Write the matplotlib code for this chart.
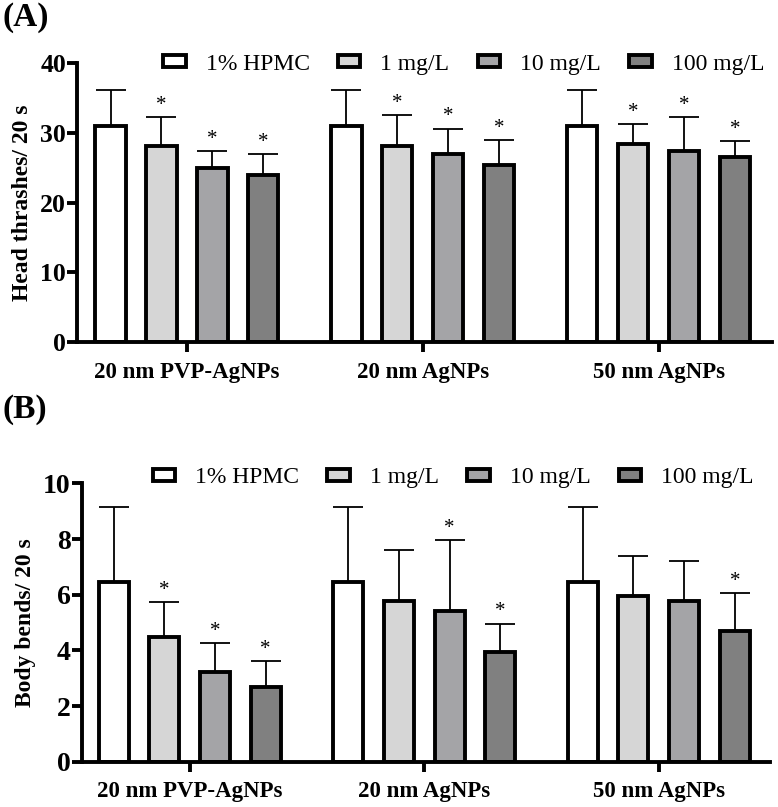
import numpy as np
from matplotlib import pyplot as plt

groups = ['20 nm PVP-AgNPs', '20 nm AgNPs', '50 nm AgNPs']
series = ['1% HPMC', '1 mg/L', '10 mg/L', '100 mg/L']
colors = ['#ffffff', '#d6d6d6', '#a4a4a7', '#808080']

# head thrashes (mean, sd) per series, across groups
head_hpmc = [31.0, 31.0, 31.0]
head_1 = [28.1, 28.1, 28.4]
head_10 = [25.0, 26.9, 27.4]
head_100 = [24.0, 25.4, 26.5]
head_sd_hpmc = [5.1, 5.1, 5.1]
head_sd_1 = [4.2, 4.5, 2.8]
head_sd_10 = [2.4, 3.7, 4.9]
head_sd_100 = [2.9, 3.5, 2.3]
head_star_hpmc = [0, 0, 0]
head_star_1 = [1, 1, 1]
head_star_10 = [1, 1, 1]
head_star_100 = [1, 1, 1]

# body bends
bend_hpmc = [6.45, 6.45, 6.45]
bend_1 = [4.47, 5.78, 5.95]
bend_10 = [3.22, 5.41, 5.77]
bend_100 = [2.68, 3.94, 4.71]
bend_sd_hpmc = [2.72, 2.72, 2.72]
bend_sd_1 = [1.27, 1.81, 1.44]
bend_sd_10 = [1.03, 2.56, 1.45]
bend_sd_100 = [0.93, 1.02, 1.34]
bend_star_hpmc = [0, 0, 0]
bend_star_1 = [1, 0, 0]
bend_star_10 = [1, 1, 0]
bend_star_100 = [1, 1, 1]

plt.rcParams['font.family'] = ['Liberation Serif', 'DejaVu Serif']


def panel(ax, means, sds, stars, ylim, yticks, ylabel, xlim, tick_fs, star_off, leg_anchor):
    x = np.arange(len(groups))
    step = 0.216
    width = 0.128
    for i, (m, s, st) in enumerate(zip(means, sds, stars)):
        pos = x + (i - 1.5) * step
        ax.errorbar(pos, m, yerr=[np.zeros(len(s)), s], fmt='none', ecolor='black',
                    elinewidth=1.3, capsize=11, capthick=1.3, zorder=1)
        ax.bar(pos, m, width, color=colors[i], edgecolor='black', linewidth=2.8,
               label=series[i], zorder=2)
        for p, mm, ss, flag in zip(pos, m, s, st):
            if flag:
                ax.text(p, mm + ss + star_off, '*', ha='center', va='bottom',
                        fontsize=15)
    ax.set_xlim(*xlim)
    ax.set_ylim(*ylim)
    ax.set_yticks(yticks)
    ax.set_xticks(x)
    ax.set_xticklabels(groups, fontweight='bold', fontsize=16.5)
    for t in ax.get_yticklabels():
        t.set_fontweight('bold')
        t.set_fontsize(tick_fs)
    ax.set_ylabel(ylabel, fontweight='bold', fontsize=17, labelpad=5)
    ax.spines['top'].set_visible(False)
    ax.spines['right'].set_visible(False)
    ax.spines['left'].set_linewidth(2.8)
    ax.spines['bottom'].set_linewidth(2.8)
    ax.tick_params(axis='both', width=2.8, length=7, direction='out')
    ax.tick_params(axis='y', pad=1)
    ax.tick_params(axis='x', pad=7)
    ax.legend(loc='center right', bbox_to_anchor=leg_anchor, ncol=4, frameon=False,
              fontsize=17, handlelength=0.95, handleheight=0.4, handletextpad=0.85,
              columnspacing=1.2, borderaxespad=0)


fig = plt.figure(figsize=(7.78, 8.07), dpi=100)
ax1 = fig.add_axes([0.099, 0.576, 0.893, 0.346])
ax2 = fig.add_axes([0.105, 0.056, 0.885, 0.345])

panel(ax1, [head_hpmc, head_1, head_10, head_100],
      [head_sd_hpmc, head_sd_1, head_sd_10, head_sd_100],
      [head_star_hpmc, head_star_1, head_star_10, head_star_100],
      (0, 40), [0, 10, 20, 30, 40], 'Head thrashes/ 20 s', (-0.466, 2.479), 18.5, 0.3,
      (1.003, 0.995))
panel(ax2, [bend_hpmc, bend_1, bend_10, bend_100],
      [bend_sd_hpmc, bend_sd_1, bend_sd_10, bend_sd_100],
      [bend_star_hpmc, bend_star_1, bend_star_10, bend_star_100],
      (0, 10), [0, 2, 4, 6, 8, 10], 'Body bends/ 20 s', (-0.46, 2.475), 20, 0.08,
      (0.99, 1.02))

fig.text(0.003, 0.997, '(A)', fontsize=24, fontweight='bold', va='top', ha='left')
fig.text(0.003, 0.512, '(B)', fontsize=24, fontweight='bold', va='top', ha='left')

fig.savefig('out.png', dpi=100)
